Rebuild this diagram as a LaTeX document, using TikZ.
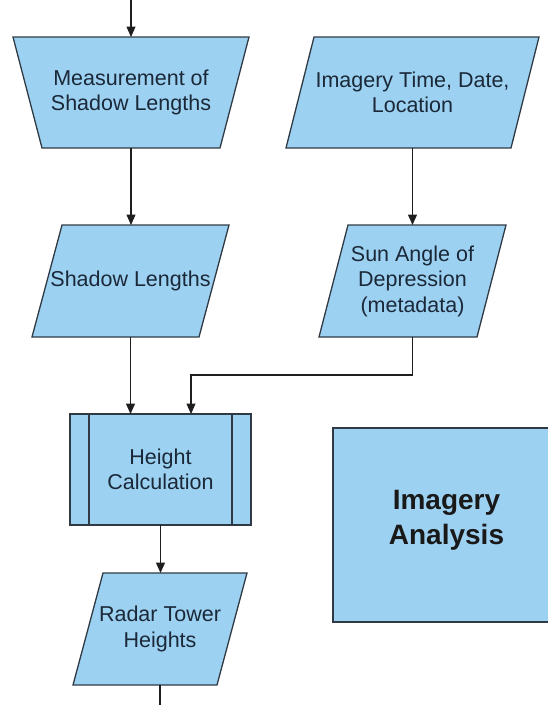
\documentclass[tikz,border=0pt]{standalone}
\usepackage{fontspec}
\setmainfont{Liberation Sans}
\usetikzlibrary{arrows.meta,calc,backgrounds}
\definecolor{boxfill}{RGB}{157,209,241}
\definecolor{boxline}{RGB}{47,58,68}
\definecolor{inktext}{RGB}{26,40,56}
\definecolor{wire}{RGB}{30,30,30}

% parallelogram leaning right: #1 node name, #2 horizontal slant
\newcommand\leanshape[2]{%
  \path[shapebody] ($(#1.north west)+(#2,0)$) -- (#1.north east)
    -- ($(#1.south east)+(-#2,0)$) -- (#1.south west) -- cycle;}

\begin{document}
\begin{tikzpicture}[x=1pt,y=-1pt,
  slot/.style 2 args={minimum width=#1,minimum height=#2,inner sep=0pt,
    outer sep=0pt,align=center,text=inktext,
    font=\fontsize{21.5}{25.5}\selectfont},
  shapebody/.style={fill=boxfill,draw=boxline,line width=1.3pt,line join=miter},
  conn/.style={draw=wire,line width=1.3pt,-{Triangle[length=10.5pt,width=9pt]}},
  plainwire/.style={draw=wire,line width=1.3pt}]
\useasboundingbox (0,0) rectangle (548,705);

% text holders, sized to the outline of each shape
\node[slot={236pt}{111pt}] (meas) at (131,92.5) {Measurement of\\Shadow Lengths};
\node[slot={253pt}{111pt}] (time) at (412.5,92.5) {Imagery Time, Date,\\Location};
\node[slot={197pt}{112pt}] (shadow) at (130.5,281) {Shadow Lengths};
\node[slot={187pt}{112pt}] (sun) at (412.5,281) {Sun Angle of\\Depression\\(metadata)};
\node[slot={181pt}{111pt}] (calc) at (160.5,469.5) {Height\\Calculation};
\node[slot={174pt}{112pt}] (radar) at (160,629) {Radar Tower\\Heights};

% outlines drawn behind the text
\begin{scope}[on background layer]
  \path[shapebody] (meas.north west) -- (meas.north east)
    -- ($(meas.south east)+(-29,0)$) -- ($(meas.south west)+(29,0)$) -- cycle;
  \leanshape{time}{28}
  \leanshape{shadow}{30}
  \leanshape{sun}{29}
  \leanshape{radar}{30}
  \path[shapebody] (calc.north west) rectangle (calc.south east);
  \draw[boxline,line width=1.3pt] ($(calc.north west)+(19,0)$) -- ($(calc.south west)+(19,0)$);
  \draw[boxline,line width=1.3pt] ($(calc.north east)+(-19,0)$) -- ($(calc.south east)+(-19,0)$);
\end{scope}

% process group label
\node[draw=boxline,fill=boxfill,line width=1.3pt,minimum width=227pt,
  minimum height=194pt,inner sep=0pt,align=center,text=black!90,
  text depth=16pt,
  font=\fontsize{28}{35}\selectfont\bfseries] (analysis) at (446.5,525)
  {Imagery\\Analysis};

% connectors
\coordinate (topin) at (131,0);
\coordinate (botout) at (160,705);
\draw[conn] (topin) -- (meas.north);
\draw[conn] (meas.south) -- (meas.south |- shadow.north);
\draw[conn] (time.south) -- (sun.north);
\draw[conn] (shadow.south) -- (shadow.south |- calc.north);
\draw[conn] (sun.south) -- ++(0,38) -| ($(calc.north)+(30.5,0)$);
\draw[conn] (calc.south) -- (calc.south |- radar.north);
\draw[plainwire] (radar.south) -- (botout);
\end{tikzpicture}
\end{document}
